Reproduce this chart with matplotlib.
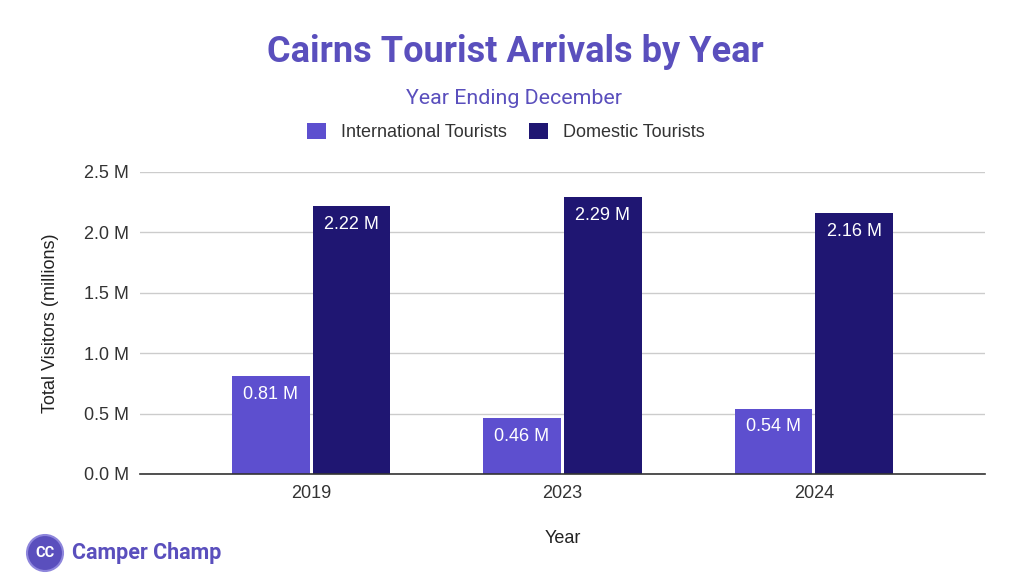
import numpy as np
import matplotlib.pyplot as plt
from matplotlib.patches import Circle

years = ["2019", "2023", "2024"]
international = [0.81, 0.46, 0.54]
domestic = [2.22, 2.29, 2.16]
series_names = ["International Tourists", "Domestic Tourists"]
yticks = [0.0, 0.5, 1.0, 1.5, 2.0, 2.5]

intl_color = "#5d4fcf"
dom_color = "#1f1672"
title_color = "#5a4fbd"

W, H = 1024, 582
fig = plt.figure(figsize=(W / 100, H / 100), dpi=100)
fig.patch.set_facecolor("white")

# axes placed by pixel box
ax = fig.add_axes([140 / W, 1 - 474 / H, (985 - 140) / W, (474 - 172) / H])

x = np.arange(len(years))
bw = 0.31
gap = 0.006
b1 = ax.bar(x - bw / 2 - gap, international, bw, color=intl_color, zorder=3)
b2 = ax.bar(x + bw / 2 + gap, domestic, bw, color=dom_color, zorder=3)

for bars, vals in ((b1, international), (b2, domestic)):
    for r, v in zip(bars, vals):
        ax.annotate(f"{v:.2f} M", (r.get_x() + r.get_width() / 2, v),
                    xytext=(0, -7), textcoords="offset points",
                    ha="center", va="top", color="white", fontsize=13,
                    family="Liberation Sans", zorder=4)

ax.set_xlim(-0.68, 2.68)
ax.set_ylim(0, 2.5)
ax.set_yticks(yticks)
ax.set_yticklabels([f"{t:.1f} M" for t in yticks])
ax.set_xticks(x)
ax.set_xticklabels(years)
ax.grid(axis="y", color="#cccccc", lw=1, zorder=0)
for s in ("top", "right", "left"):
    ax.spines[s].set_visible(False)
ax.spines["bottom"].set_color("#333333")
ax.spines["bottom"].set_linewidth(1.2)
ax.spines["bottom"].set_zorder(5)
ax.tick_params(axis="both", length=0, labelsize=13, labelcolor="#333333")
ax.tick_params(axis="y", pad=8)
ax.tick_params(axis="x", pad=8)
for lab in ax.get_xticklabels() + ax.get_yticklabels():
    lab.set_family("Liberation Sans")

ax.set_ylabel("Total Visitors (millions)", fontsize=13, color="#222222",
              family="Liberation Sans", labelpad=18)
ax.set_xlabel("Year", fontsize=13, color="#222222",
              family="Liberation Sans", labelpad=20)

fig.text(515 / W, 1 - 52 / H, "Cairns Tourist Arrivals by Year", ha="center",
         va="center", fontsize=26, fontweight="bold", family="Roboto",
         color=title_color)
fig.text(514 / W, 1 - 98 / H, "Year Ending December", ha="center",
         va="center", fontsize=15.4, family="Roboto", color=title_color)

leg = fig.legend([b1, b2], series_names, loc="center", ncol=2,
                 bbox_to_anchor=(506 / W, 1 - 132 / H), frameon=False,
                 prop={"family": "Liberation Sans", "size": 13},
                 handlelength=1.05, handleheight=1.05, columnspacing=1.2,
                 handletextpad=0.85)
for t in leg.get_texts():
    t.set_color("#333333")

# logo
lax = fig.add_axes([0, 0, 1, 1], zorder=10)
lax.set_xlim(0, W)
lax.set_ylim(H, 0)
lax.axis("off")
lax.add_patch(Circle((45, 553), 18, facecolor=title_color,
                     edgecolor="#8e86dc", lw=1.5))
lax.text(45, 553, "CC", ha="center", va="center", color="white",
         fontsize=10.5, fontweight="bold", family="Roboto")
lax.text(72, 553, "Camper Champ", ha="left", va="center", color=title_color,
         fontsize=15.5, fontweight="bold", family="Roboto")

fig.savefig("out.png", dpi=100, facecolor="white")
